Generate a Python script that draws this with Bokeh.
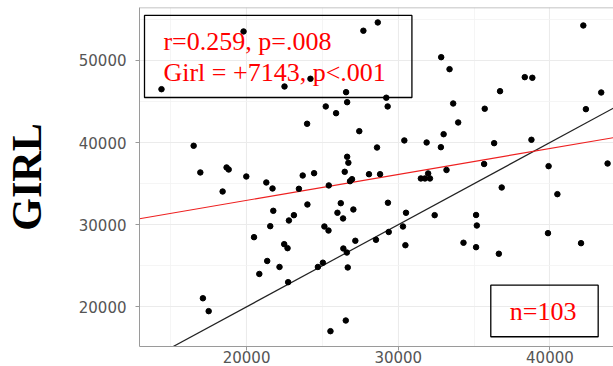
from bokeh.plotting import figure
from bokeh.models import (ColumnDataSource, Range1d, SingleIntervalTicker, NumeralTickFormatter,
                          Label, Span, BoxAnnotation)
from bokeh.embed import file_html
from bokeh.resources import INLINE

# ---- data ----
x_vals = [14390, 19800, 16510, 22500, 23990, 24210, 27700, 28650, 25220, 25900,
          26560, 26630, 29210, 29300, 27430, 28600, 30400, 31870, 32810, 32990,
          32830, 33380, 33620, 33950, 35700, 36710, 38340, 38840, 36320, 38780,
          42200, 43380, 42370, 16950, 18680, 18820, 19980, 21300, 21710, 18420,
          23450, 23700, 24450, 26630, 26710, 26470, 26950, 26820, 28070, 28800,
          25420, 31490, 31760, 32090, 31970, 33180, 35660, 39910, 43800, 36820,
          40490, 21760, 23120, 22790, 21560, 20490, 22480, 22700, 21360, 24010,
          26210, 25990, 26360, 27040, 29320, 30510, 32400, 25130, 25400, 30310,
          27170, 28530, 29370, 26380, 26610, 30470, 35130, 35180, 39870, 34300,
          35130, 36630, 42050, 24700, 25030, 26670, 26540, 25530, 17120, 17500,
          20840, 22170, 22740]
y_vals = [46500, 53530, 39610, 46830, 42290, 47770, 53620, 54630, 44400, 43580,
          46140, 44920, 45460, 44400, 41390, 39400, 40260, 40010, 39440, 41020,
          50400, 48940, 44760, 42450, 44120, 46260, 47970, 47890, 39930, 40340,
          54260, 46100, 44070, 36360, 36970, 36720, 35870, 35140, 34410, 34040,
          34370, 35990, 36270, 38270, 37540, 36440, 35540, 35300, 36150, 36150,
          34780, 35630, 35630, 35630, 36240, 36660, 37390, 37130, 37450, 34530,
          33720, 31690, 31160, 30510, 29820, 28480, 27630, 27140, 25580, 32460,
          32620, 31450, 30760, 31850, 32670, 31450, 31160, 29780, 29290, 29780,
          28040, 28160, 29110, 27100, 26610, 27500, 31180, 29900, 28970, 27800,
          27260, 26460, 27750, 24850, 25370, 24790, 18330, 17030, 21040, 19470,
          24000, 24850, 23000]

fit_intercept = 26640   # red regression line
fit_slope = 0.316
x_lim = (12940, 44190)
y_lim = (15165, 56450)

stat_lines = ["r=0.259, p=.008", "Girl = +7143, p<.001"]
n_label = "n=103"
y_title = "GIRL"

# ---- figure ----
p = figure(width=613, height=366, output_backend="svg", toolbar_location=None,
           x_range=Range1d(*x_lim), y_range=Range1d(*y_lim),
           min_border_left=138, min_border_right=0, min_border_top=7, min_border_bottom=20)
p.outline_line_color = None
p.background_fill_color = "white"
p.border_fill_color = "white"

for ax in (p.xaxis[0], p.yaxis[0]):
    ax.ticker = SingleIntervalTicker(interval=10000, num_minor_ticks=2)
    ax.formatter = NumeralTickFormatter(format="0")
    ax.axis_line_color = "#9a9a9a"
    ax.axis_line_width = 1
    ax.major_tick_line_color = "#9a9a9a"
    ax.major_tick_in = 0
    ax.major_tick_out = 4
    ax.minor_tick_line_color = None
    ax.major_label_text_font = "DejaVu Sans"
    ax.major_label_text_color = "#555555"

p.xaxis.major_label_text_font_size = "15px"
p.xaxis.major_label_standoff = 0
p.yaxis.major_label_text_font_size = "15px"
p.yaxis.major_label_standoff = 9

p.yaxis.axis_label = y_title
p.yaxis.axis_label_text_font = "Liberation Serif"
p.yaxis.axis_label_text_font_style = "bold"
p.yaxis.axis_label_text_font_size = "42px"
p.yaxis.axis_label_text_color = "black"
p.yaxis.axis_label_standoff = 26

p.grid.grid_line_color = "#ebebeb"
p.grid.grid_line_width = 1.1
p.grid.minor_grid_line_color = "#f2f2f2"
p.grid.minor_grid_line_width = 0.8

# top panel border
p.add_layout(Span(location=y_lim[1], dimension="width", line_color="#b0b0b0", line_width=1.5))

# identity line and regression line
p.line(x=list(x_lim), y=list(x_lim), line_color="#222222", line_width=1.2)
p.line(x=list(x_lim), y=[fit_intercept + fit_slope * v for v in x_lim],
       line_color="#ee2020", line_width=1.1)

src = ColumnDataSource(dict(x=x_vals, y=y_vals))
p.scatter("x", "y", source=src, size=5.5, color="black")

# annotation boxes
p.add_layout(BoxAnnotation(left=13270, right=30900, bottom=45490, top=55480,
                           fill_color=None, line_color="black", line_alpha=1.0, line_width=1.3))
p.add_layout(BoxAnnotation(left=36100, right=43180, bottom=16350, top=22630,
                           fill_color=None, line_color="black", line_alpha=1.0, line_width=1.3))

for txt, yy in zip(stat_lines, [52290, 48510]):
    p.add_layout(Label(x=14520, y=yy, text=txt, text_font="Liberation Serif",
                       text_font_size="26px", text_color="#ff0000", text_baseline="middle"))
p.add_layout(Label(x=39550, y=19440, text=n_label, text_font="Liberation Serif",
                   text_font_size="26px", text_color="#ff0000", text_align="center",
                   text_baseline="middle"))

open("out.html", "w").write(file_html(p, INLINE))
